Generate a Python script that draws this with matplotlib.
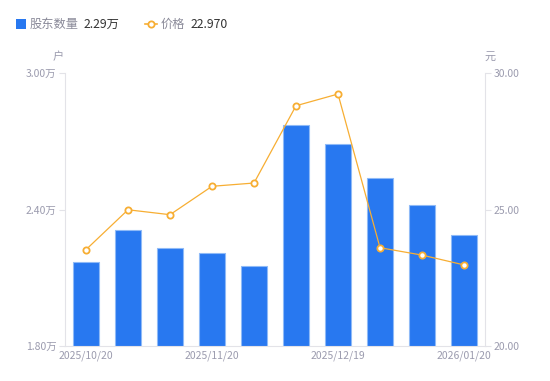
import matplotlib
matplotlib.use("Agg")
import matplotlib.pyplot as plt
from matplotlib.patches import Rectangle
from matplotlib.lines import Line2D
import numpy as np

plt.rcParams['font.family'] = ['Noto Sans CJK SC', 'DejaVu Sans']

dates = ["2025/10/20", "2025/10/31", "2025/11/10", "2025/11/20", "2025/11/28",
         "2025/12/10", "2025/12/19", "2025/12/31", "2026/01/10", "2026/01/20"]
holders = [2.17, 2.31, 2.23, 2.21, 2.15, 2.77, 2.69, 2.54, 2.42, 2.29]  # 万户
prices = [23.53, 24.99, 24.81, 25.85, 25.97, 28.80, 29.23, 23.60, 23.33, 22.97]
shown_ticks = [0, 3, 6, 9]
left_ticks = [1.80, 2.40, 3.00]
right_ticks = [20.0, 25.0, 30.0]

bar_color = '#2878F0'
bar_edge = '#8FBAF7'
line_color = '#F7AE33'
tick_color = '#9B9BAE'
axis_color = '#E3E3E8'

fig = plt.figure(figsize=(5.5, 3.81), dpi=100)
ax = fig.add_axes([65/550, 35/381, 420/550, 273/381])
ax2 = ax.twinx()

x = np.arange(len(dates))
ax.bar(x, holders, width=0.6, color=bar_color, edgecolor=bar_edge, linewidth=0.8, zorder=2)
ax.set_xlim(-0.5, len(dates) - 0.5)
ax.set_ylim(left_ticks[0], left_ticks[-1])
ax.set_yticks(left_ticks)
ax.set_yticklabels([f"{v:.2f}万" for v in left_ticks])
ax.set_xticks([x[i] for i in shown_ticks])
ax.set_xticklabels([dates[i] for i in shown_ticks])

ax2.plot(x, prices, color=line_color, linewidth=0.9, marker='o', markersize=4.5,
         markerfacecolor='white', markeredgecolor=line_color, markeredgewidth=1.3, zorder=3)
ax2.set_ylim(right_ticks[0], right_ticks[-1])
ax2.set_yticks(right_ticks)
ax2.set_yticklabels([f"{v:.2f}" for v in right_ticks])

for a in (ax, ax2):
    for s in a.spines.values():
        s.set_visible(False)
ax.spines['left'].set_visible(True)
ax.spines['left'].set_color(axis_color)
ax.spines['bottom'].set_visible(True)
ax.spines['bottom'].set_color(axis_color)
ax2.spines['right'].set_visible(True)
ax2.spines['right'].set_color(axis_color)

ax.tick_params(axis='y', colors=axis_color, labelcolor=tick_color, labelsize=7.5, length=4, width=0.8, pad=2)
ax.tick_params(axis='x', length=0, labelcolor=tick_color, labelsize=7.5, pad=3)
ax2.tick_params(axis='y', colors=axis_color, labelcolor=tick_color, labelsize=7.5, length=4, width=0.8, pad=2)

fig.text(58/550, 1 - 57/381, "户", color=tick_color, fontsize=8, ha='center', va='center')
fig.text(490/550, 1 - 57/381, "元", color=tick_color, fontsize=8, ha='center', va='center')

# legend
fig.patches.append(Rectangle((16/550, 1 - 29/381), 10/550, 10/381, transform=fig.transFigure,
                             facecolor=bar_color, edgecolor='none'))
fig.text(30/550, 1 - 24/381, "股东数量", color='#8A8A99', fontsize=8.8, va='center')
fig.text(84/550, 1 - 24/381, "2.29万", color='#333333', fontsize=8.8, va='center')
fig.lines.append(Line2D([145/550, 151/550, 157/550], [1 - 24/381] * 3, transform=fig.transFigure,
                        color=line_color, linewidth=1.2, marker='o', markersize=4.5,
                        markevery=[1], markerfacecolor='white', markeredgecolor=line_color,
                        markeredgewidth=1.3))
fig.text(161/550, 1 - 24/381, "价格", color='#8A8A99', fontsize=8.8, va='center')
fig.text(191/550, 1 - 24/381, "22.970", color='#333333', fontsize=8.8, va='center')

fig.savefig("out.png", dpi=100)
